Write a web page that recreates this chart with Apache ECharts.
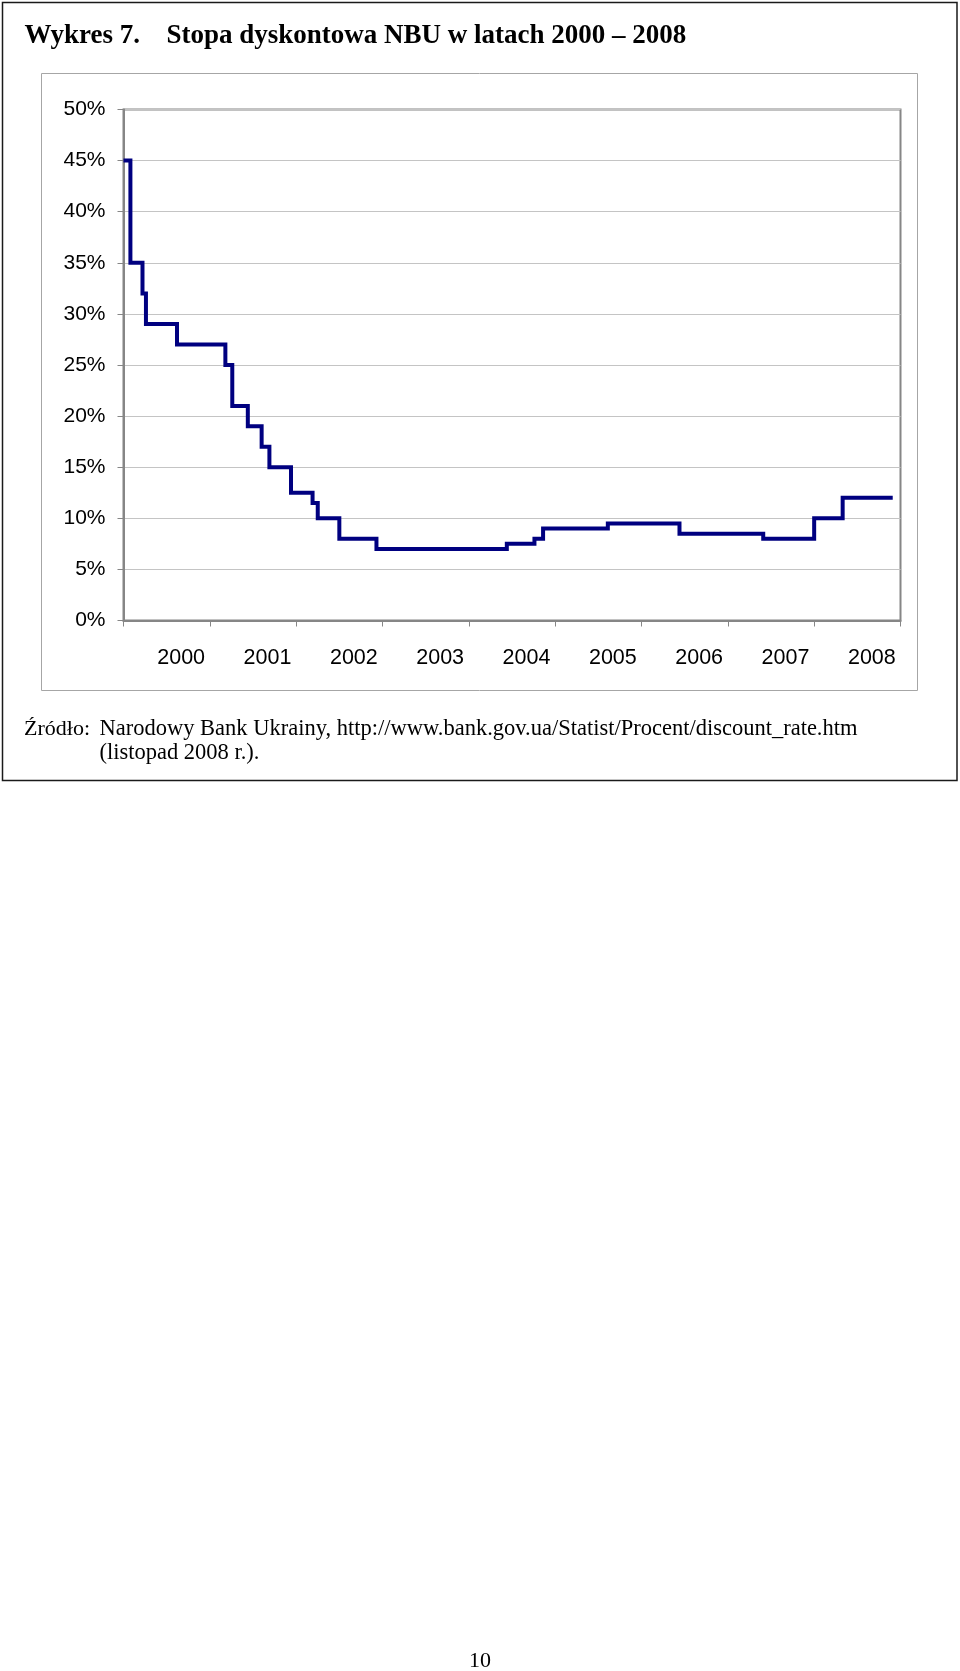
<!DOCTYPE html>
<html>
<head>
<meta charset="utf-8">
<script src="https://cdn.jsdelivr.net/npm/echarts@6/dist/echarts.min.js"></script>
<style>
  html, body { margin: 0; padding: 0; background: #ffffff; }
  #chart { width: 960px; height: 1671px; }
</style>
</head>
<body>
<div id="chart"></div>
<script>
// ---- Data ----
var yearLabels = ['2000', '2001', '2002', '2003', '2004', '2005', '2006', '2007', '2008'];
// Dates (decimal years) at which the NBU discount rate took a new value
var changeDates = [2000.00, 2000.08, 2000.22, 2000.26, 2000.62, 2001.18, 2001.26, 2001.44,
                   2001.60, 2001.69, 2001.94, 2002.19, 2002.25, 2002.50, 2002.93, 2004.44,
                   2004.76, 2004.86, 2005.61, 2006.44, 2007.41, 2008.00, 2008.33, 2008.91];
// Rate (%) in force from that date on
var rates = [45, 35, 32, 29, 27, 25, 21, 19,
             17, 15, 12.5, 11.5, 10, 8, 7, 7.5,
             8, 9, 9.5, 8.5, 8, 10, 12, 12];
var yTicks = { min: 0, max: 50, interval: 5 };
var titleLead = 'Wykres 7.';
var titleText = 'Stopa dyskontowa NBU w latach 2000 – 2008';
var sourceLead = 'Źródło:';
var sourceLine1 = 'Narodowy Bank Ukrainy, http://www.bank.gov.ua/Statist/Procent/discount_rate.htm';
var sourceLine2 = '(listopad 2008 r.).';
var pageNumber = '10';

var seriesData = changeDates.map(function (d, i) { return [d, rates[i]]; });

var chart = echarts.init(document.getElementById('chart'), null, { renderer: 'canvas' });
var axisGrey = '#868686';
var sans = '"Liberation Sans", Arial, sans-serif';
var serif = '"Liberation Serif", "Times New Roman", serif';

chart.setOption({
  backgroundColor: '#ffffff',
  animation: false,
  grid: {
    left: 123.5, top: 109.5, right: 59.5, bottom: 1050.5,
    show: true, borderColor: axisGrey, borderWidth: 2, backgroundColor: 'transparent'
  },
  xAxis: [
    {
      type: 'value', min: 2000, max: 2009, interval: 1,
      axisLine: { show: true, lineStyle: { color: axisGrey, width: 2 } },
      axisTick: { show: true, length: 6, lineStyle: { color: axisGrey, width: 1 } },
      axisLabel: { show: false },
      splitLine: { show: false }
    },
    {
      type: 'category', data: yearLabels, position: 'bottom', boundaryGap: true,
      axisLine: { show: false }, axisTick: { show: false }, splitLine: { show: false },
      axisLabel: {
        show: true, interval: 0, margin: 27, color: '#000', fontFamily: sans, fontSize: 21.5,
        padding: [0, 0, 0, 29]
      }
    }
  ],
  yAxis: {
    type: 'value', min: yTicks.min, max: yTicks.max, interval: yTicks.interval,
    axisLine: { show: true, lineStyle: { color: axisGrey, width: 2 } },
    axisTick: { show: true, length: 6, lineStyle: { color: axisGrey, width: 1 } },
    axisLabel: { formatter: '{value}%', margin: 18, color: '#000', fontFamily: sans, fontSize: 21 },
    splitLine: { show: true, lineStyle: { color: '#c4c4c4', width: 1 } }
  },
  series: [{
    type: 'line', xAxisIndex: 0, data: seriesData, step: 'end',
    symbol: 'none', lineStyle: { color: '#000080', width: 4, cap: 'butt', join: 'miter' }
  }],
  graphic: [
    { type: 'rect', shape: { x: 2.5, y: 2.5, width: 954.5, height: 778 }, style: { fill: 'none', stroke: '#1a1a1a', lineWidth: 1.5 }, z: 0 },
    { type: 'rect', shape: { x: 41.5, y: 73.5, width: 876, height: 617 }, style: { fill: 'none', stroke: '#a6a6a6', lineWidth: 1 }, z: 0 },
    { type: 'text', x: 24.5, y: 36, style: { text: titleLead, font: 'bold 27px ' + serif, fill: '#000', verticalAlign: 'middle' } },
    { type: 'text', x: 166.5, y: 36, style: { text: titleText, font: 'bold 27px ' + serif, fill: '#000', verticalAlign: 'middle' } },
    { type: 'text', x: 24, y: 729, style: { text: sourceLead, font: '22px ' + serif, fill: '#000', verticalAlign: 'middle' } },
    { type: 'text', x: 99.5, y: 729, style: { text: sourceLine1, font: '22.5px ' + serif, fill: '#000', verticalAlign: 'middle' } },
    { type: 'text', x: 99.5, y: 753, style: { text: sourceLine2, font: '22.5px ' + serif, fill: '#000', verticalAlign: 'middle' } },
    { type: 'text', x: 480, y: 1661, style: { text: pageNumber, font: '22px ' + serif, fill: '#000', align: 'center', verticalAlign: 'middle' } }
  ]
});
</script>
</body>
</html>
